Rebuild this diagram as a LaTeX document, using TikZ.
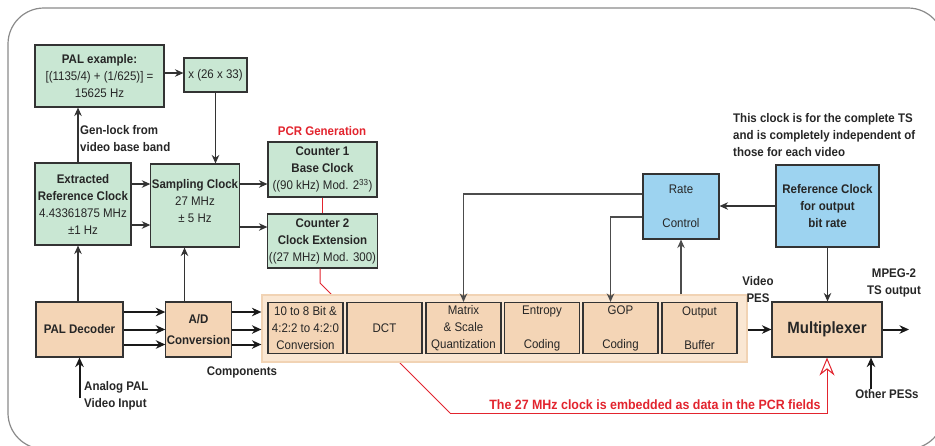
\documentclass[tikz,border=0pt]{standalone}
\usepackage{fontspec}
\setmainfont{Liberation Sans}[FakeStretch=0.92]
\usetikzlibrary{arrows.meta}
\definecolor{gfill}{HTML}{C9E7D3}
\definecolor{pfill}{HTML}{F4D5B6}
\definecolor{bgfill}{HTML}{FAE7D3}
\definecolor{bgline}{HTML}{F1D3B4}
\definecolor{bfill}{HTML}{9DD3F0}
\definecolor{redl}{HTML}{E2242E}
\definecolor{edge}{HTML}{333333}
\definecolor{frame}{HTML}{8A8A8A}
\tikzset{
  base/.style={draw=edge, line width=1.1pt, inner sep=1pt, align=center,
    font=\fontsize{12.5}{17}\selectfont, text=black!85},
  gbox/.style={base, fill=gfill},
  pbox/.style={base, fill=pfill},
  bbox/.style={base, fill=bfill},
  lbl/.style={font=\fontsize{12.5}{17}\selectfont\bfseries, text=black!85, inner sep=0pt},
  arr/.style={draw=edge, line width=1.1pt, -{Stealth[length=8.5pt,width=7.5pt]}},
  arrg/.style={draw=black!70, line width=1.1pt, -{Stealth[length=8.5pt,width=7.5pt]}},
  arrthick/.style={draw=black!90, line width=2pt, -{Stealth[length=9.5pt,width=8.5pt]}},
  redline/.style={draw=redl, line width=1pt},
}
\begin{document}
\begin{tikzpicture}[x=1pt,y=-1pt]
\useasboundingbox (0,0) rectangle (935,445);
\begin{scope}
\clip (0,0) rectangle (935,445);
\draw[frame, line width=1.2pt, rounded corners=36pt] (8,8) rectangle (944,449);
\end{scope}

% green boxes
\node[gbox, minimum width=129pt, minimum height=62pt] (palex) at (99.5,76)
  {\textbf{PAL example:}\\{[}(1135/4) + (1/625)] =\\15625 Hz};
\node[gbox, minimum width=63pt, minimum height=34pt] (xb) at (215.5,75) {x (26 x 33)};
\node[gbox, minimum width=96pt, minimum height=82pt] (ext) at (83,204)
  {\textbf{Extracted}\\\textbf{Reference Clock}\\4.43361875 MHz\\±1 Hz};
\node[gbox, minimum width=88pt, minimum height=83pt] (samp) at (195,205.5)
  {\textbf{Sampling Clock}\\27 MHz\\± 5 Hz\\[-7pt]\mbox{}};
\node[gbox, minimum width=109pt, minimum height=55pt] (c1) at (322.5,169.5)
  {\textbf{Counter 1}\\\textbf{Base Clock}\\((90 kHz) Mod. 2\textsuperscript{33})};
\node[gbox, minimum width=109pt, minimum height=54pt] (c2) at (322.5,241)
  {\textbf{Counter 2}\\\textbf{Clock Extension}\\((27 MHz) Mod. 300)};
\node[lbl, text=redl] (pcr) at (322,131) {PCR Generation};

% red PCR line (behind encoder)
\coordinate (rbend) at (320,283);
\coordinate (rdiag) at (450,413);
\draw[redline] (c1.south) -- (c2.north);
\draw[redline] ([xshift=-2.5]c2.south) -- ([xshift=-2.5]c2.south |- rbend) -- (rdiag);
\node[lbl, text=redl, anchor=base, font=\fontsize{13.5}{16}\selectfont\bfseries] (redtxt) at (655,409.5) {The 27 MHz clock is embedded as data in the PCR fields};

% encoder
\node[draw=bgline, line width=1.2pt, fill=bgfill, minimum width=485pt, minimum height=67pt, inner sep=0pt] (bg) at (504.5,328.5) {};
\tikzset{ebox/.style={pbox, minimum width=75pt, minimum height=51pt}}
\node[ebox] (e1) at (305.5,328) {10 to 8 Bit \&\\4:2:2 to 4:2:0\\Conversion};
\node[ebox] (dct) at (384.5,328) {DCT};
\node[ebox] (mat) at (463.5,328) {Matrix\\\& Scale\\Quantization};
\node[ebox] (ent) at (542,328) {Entropy\\\mbox{}\\Coding};
\node[ebox] (gop) at (620.5,328) {GOP\\\mbox{}\\Coding};
\node[ebox] (outb) at (699.5,328) {Output\\\mbox{}\\Buffer};

% blue boxes
\node[bbox, minimum width=76pt, minimum height=65pt] (rc) at (681,206.5) {Rate\\[17pt]Control};
\node[bbox, minimum width=103pt, minimum height=82pt] (ref) at (827.5,206)
  {\textbf{Reference Clock}\\\textbf{for output}\\\textbf{bit rate}};
\node[lbl, anchor=north west, align=left] (note) at (733,113.5)
  {This clock is for the complete TS\\and is completely independent of\\those for each video};

% lower boxes
\node[pbox, minimum width=110pt, minimum height=55pt, font=\fontsize{16.3}{18}\selectfont\bfseries] (mux) at (827,329.5) {Multiplexer};
\node[pbox, minimum width=87pt, minimum height=55pt] (pal) at (79.5,329.5) {\textbf{PAL Decoder}};
\node[pbox, minimum width=65pt, minimum height=55pt] (ad) at (198.5,329.5) {\textbf{A/D}\\[4pt]\textbf{Conversion}};

% labels
\node[lbl, anchor=west, align=left] (gen) at (80,138.5) {Gen-lock from\\video base band};
\node[lbl, anchor=west, align=left] (ana) at (84,396) {Analog PAL\\Video Input};
\node[lbl] (comp) at (242,372) {Components};
\node[lbl, align=center] (vpes) at (758,290) {Video\\PES};
\node[lbl, align=center] (mpeg) at (894,283) {MPEG-2\\TS output};
\node[lbl] (oth) at (887,394) {Other PESs};

% red arrow to mux
\draw[redline, -{Stealth[open, fill=white, length=18pt, width=15pt, inset=6pt]}]
  (rdiag) -- (rdiag -| mux.south) -- (mux.south);

% arrows top-left
\draw[arr] ([yshift=3]palex.east) -- ([yshift=3]palex.east -| xb.west);
\draw[arr] (xb.south) -- (xb.south |- samp.north);
\draw[arr] ([xshift=-5]ext.north) -- ([xshift=-5]ext.north |- palex.south);
\draw[arr] ([yshift=20]ext.east) -- ([yshift=20]ext.east -| samp.west);
\draw[arr] ([yshift=-21]ext.east) -- ([yshift=-21]ext.east -| samp.west);
\draw[arr] ([yshift=21.5]samp.east) -- ([yshift=21.5]samp.east -| c1.west);
\draw[arr] ([yshift=-21.5]samp.east) -- ([yshift=-21.5]samp.east -| c2.west);
\draw[arr] ([xshift=-1.5]pal.north) -- ([xshift=-1.5]pal.north |- ext.south);
\draw[arr] ([xshift=-14]ad.north) -- ([xshift=-14]ad.north |- samp.south);

% thick arrows
\foreach \s in {17.5,0,-15}{
  \draw[arrthick] ([yshift=\s]pal.east) -- ([yshift=\s]pal.east -| ad.west);
  \draw[arrthick] ([yshift=\s]ad.east) -- ([yshift=\s]ad.east -| bg.west);
}
\coordinate (anin) at (79.5,398);
\draw[arrthick] (anin) -- (pal.south);
\draw[arrthick] (bg.east |- mux.west) -- (mux.west);
\coordinate (tsout) at (909,329.5);
\draw[arrthick] (mux.east) -- (tsout);
\draw[arrthick] ([xshift=44]mux.south |- oth.north) -- ([xshift=44]mux.south);

% rate control
\draw[arrg] ([yshift=12.5]rc.west) -| (mat.north);
\draw[arrg] ([yshift=-10.5]rc.west) -| ([xshift=-10]gop.north);
\draw[arrg] (bg.north -| rc.south) -- (rc.south);
\draw[arr] (ref.west) -- (ref.west -| rc.east);
\draw[arr] (ref.south) -- (ref.south |- mux.north);
\end{tikzpicture}
\end{document}
